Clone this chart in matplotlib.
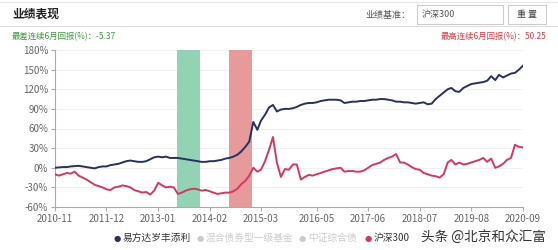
import matplotlib
matplotlib.use("Agg")
import matplotlib.pyplot as plt
import matplotlib.patches as mpatches
import pandas as pd

plt.rcParams['font.family'] = ['Noto Sans CJK SC', 'DejaVu Sans']

# monthly cumulative returns (%), 2010-11 .. 2020-09
months = pd.date_range("2010-11-01", periods=119, freq="MS")

fund = [0, 0.5, 1, 1, 2, 2.5, 3, 2, 1, 0, -1,
        1, 2, 2, 4, 5, 6, 8, 10, 11, 10,
        9, 9, 10, 13, 16, 17, 16, 17, 15, 15,
        15, 14, 13, 12, 11, 10, 9, 9, 10, 10,
        11, 12, 14, 15, 17, 20, 25, 32, 40, 70,
        58, 72, 81, 92, 96, 86, 89, 90, 90, 91,
        93, 96, 98, 99, 99, 100, 102, 103, 104, 104,
        104, 103, 99, 100, 101, 101, 102, 102, 103, 104,
        104, 105, 105, 104, 103, 101, 101, 100, 100, 99,
        98, 99, 100, 97, 98, 105, 110, 115, 120, 122,
        117, 116, 122, 125, 128, 129, 130, 131, 133, 140,
        134, 142, 138, 141, 144, 145, 150, 156]

hs300 = [-10, -12, -10, -8, -9, -6, -12, -15, -18, -22, -26,
         -28, -30, -33, -34, -30, -29, -27, -28, -30, -34,
         -36, -38, -37, -41, -35, -23, -27, -30, -29, -30,
         -40, -38, -35, -33, -32, -33, -35, -34, -36, -38,
         -40, -39, -38, -38, -36, -32, -25, -20, -12, 0,
         -6, -3, 10, 27, 47, 8, -14, -2, -3, 5,
         5, -18, -14, -11, -12, -10, -8, -6, -4, -2,
         -1, 0, -6, -5, -5, -6, -6, -4, 0, 4,
         6, 8, 12, 15, 17, 21, 8, 8, 5, 1,
         -2, -3, -8, -10, -12, -13, -15, -10, 8, 12,
         5, 8, 5, 6, 8, 10, 12, 15, 9, 14,
         0, 2, 6, 12, 15, 35, 32, 31]

tick_labels = ["2010-11", "2011-12", "2013-01", "2014-02", "2015-03",
               "2016-05", "2017-06", "2018-07", "2019-08", "2020-09"]
yticks = [-60, -30, 0, 30, 60, 90, 120, 150, 180]

worst_span = ("2013-05-24", "2013-11-18")
best_span = ("2014-06-27", "2014-12-20")

legend_names = ["易方达岁丰添利", "混合债券型一级基金", "中证综合债", "沪深300"]

NAVY = "#27315f"
RED = "#d5385f"

W, H = 558, 250


def fx(px):
    return px / W


def fy(py):
    return 1 - py / H


fig = plt.figure(figsize=(5.58, 2.5), dpi=100)

# header
fig.text(fx(12), fy(14), "业绩表现", fontsize=8.5, fontweight="bold",
         color="#222222", va="center")
fig.add_artist(plt.Line2D([0, 1], [fy(2), fy(2)], color="#e6e6e6", lw=0.8))
fig.add_artist(plt.Line2D([0, 1], [fy(26), fy(26)], color="#dddddd", lw=0.8))
fig.text(fx(410), fy(15), "业绩基准：", fontsize=6.5, color="#555555",
         ha="right", va="center")
fig.add_artist(mpatches.Rectangle((fx(417), fy(24)), 86 / W, 19 / H,
                                  transform=fig.transFigure, fill=False,
                                  ec="#cccccc", lw=0.8))
fig.text(fx(422), fy(15), "沪深300", fontsize=6.5, color="#555555", va="center")
fig.add_artist(mpatches.Rectangle((fx(508), fy(24)), 38 / W, 19 / H,
                                  transform=fig.transFigure, fill=False,
                                  ec="#cccccc", lw=0.8))
fig.text(fx(527), fy(15), "重 置", fontsize=6.5, color="#444444",
         ha="center", va="center")

fig.text(fx(12), fy(37), "最差连续6月回报(%)：-5.37", fontsize=6,
         color="#3a9a3a", va="center")
fig.text(fx(546), fy(37), "最高连续6月回报(%)：50.25", fontsize=6,
         color="#e0383e", ha="right", va="center")

# chart
ax = fig.add_axes([fx(55), fy(207), 468 / W, 157 / H])
ax.axvspan(pd.Timestamp(worst_span[0]), pd.Timestamp(worst_span[1]),
           color="#92d3b5", lw=0, zorder=1)
ax.axvspan(pd.Timestamp(best_span[0]), pd.Timestamp(best_span[1]),
           color="#e69a9a", lw=0, zorder=1)
ax.plot(months, hs300, color=RED, lw=1.4, zorder=3)
ax.plot(months, fund, color=NAVY, lw=1.4, zorder=4)

ax.set_ylim(-60, 180)
ax.set_xlim(months[0], months[-1])
ax.set_yticks(yticks)
ax.set_yticklabels([f"{v}%" for v in yticks])
ax.set_xticks([pd.Timestamp(t + "-01") for t in tick_labels])
ax.set_xticklabels(tick_labels)
ax.grid(axis="y", color="#f0f0f0", lw=0.8)
ax.set_axisbelow(True)
for s in ["top", "right"]:
    ax.spines[s].set_visible(False)
for s in ["left", "bottom"]:
    ax.spines[s].set_color("#aaaaaa")
    ax.spines[s].set_linewidth(0.8)
ax.tick_params(axis="both", labelsize=7, colors="#aaaaaa", labelcolor="#666666",
               length=3, width=0.8, pad=2)

# legend row
legend_x = [117, 200, 302, 368]
legend_colors = [NAVY, "#cccccc", "#cccccc", RED]
text_colors = ["#333333", "#cccccc", "#cccccc", "#333333"]
for name, x, c, tc in zip(legend_names, legend_x, legend_colors, text_colors):
    fig.text(fx(x), fy(238), "●", fontsize=6, color=c, ha="center", va="center",
             family=["DejaVu Sans"])
    fig.text(fx(x + 6), fy(238), name, fontsize=7, color=tc, va="center")

fig.text(fx(421), fy(237), "头条 @北京和众汇富", fontsize=9.8,
         color="#333333", va="center")

fig.savefig("out.png", dpi=100)
